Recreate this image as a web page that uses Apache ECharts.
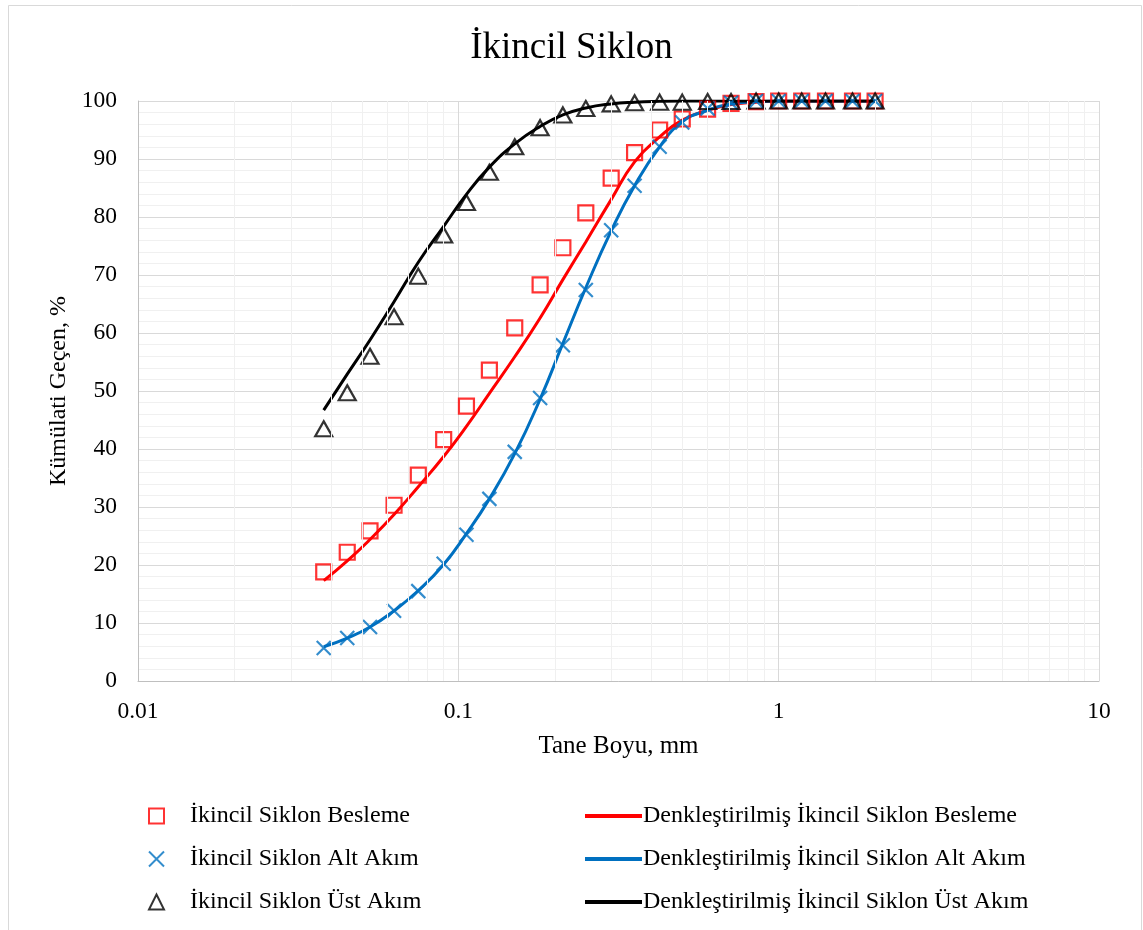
<!DOCTYPE html>
<html>
<head>
<meta charset="utf-8">
<script src="https://cdn.jsdelivr.net/npm/echarts@6/dist/echarts.min.js"></script>
<style>
  html, body { margin: 0; padding: 0; background: #fff; }
  #chart { width: 1143px; height: 930px; }
</style>
</head>
<body>
<div id="chart"></div>
<script>
// elek boyutlari, mm
const sizes = [0.038, 0.045, 0.053, 0.063, 0.075, 0.09, 0.106, 0.125, 0.15, 0.18, 0.212, 0.25,
  0.3, 0.355, 0.425, 0.5, 0.6, 0.71, 0.85, 1.0, 1.18, 1.4, 1.7, 2.0];

// olculen kumulatif gecen, %
const feed = [18.8, 22.2, 25.9, 30.3, 35.5, 41.6, 47.4, 53.6, 60.9, 68.3, 74.7, 80.7,
  86.7, 91.1, 95.0, 96.9, 98.6, 99.6, 99.9, 100, 100, 100, 100, 100];
const under = [5.7, 7.4, 9.3, 12.1, 15.5, 20.2, 25.2, 31.4, 39.5, 48.8, 57.9, 67.4,
  77.7, 85.4, 92.1, 96.3, 98.7, 99.7, 100, 100, 100, 100, 100, 100];
const over = [43.5, 49.7, 56.0, 62.8, 69.8, 76.9, 82.5, 87.7, 92.1, 95.4, 97.6, 98.7,
  99.5, 99.7, 99.8, 99.8, 99.9, 99.9, 100, 100, 100, 100, 100, 100];

// denklestirilmis egriler
const feedFit = [17.3, 20.7, 24.4, 28.7, 33.5, 38.7, 43.9, 49.6, 55.9, 62.6, 69.2, 75.7,
  83.0, 89.5, 93.8, 96.7, 98.4, 99.4, 99.8, 100, 100, 100, 100, 100];
const underFit = [5.9, 7.4, 9.3, 12.1, 15.6, 20.1, 25.4, 31.4, 39.2, 48.6, 58.2, 67.8,
  77.6, 85.4, 92.1, 96.4, 98.4, 99.5, 99.9, 100, 100, 100, 100, 100];
const overFit = [46.7, 52.9, 58.8, 65.4, 72.2, 78.4, 83.9, 88.6, 92.6, 95.6, 97.6, 98.8,
  99.5, 99.8, 99.95, 100, 100, 100, 100, 100, 100, 100, 100, 100];

const xTicks = [0.01, 0.1, 1, 10];
const xMinor = [0.02, 0.03, 0.04, 0.05, 0.06, 0.07, 0.08, 0.09,
  0.2, 0.3, 0.4, 0.5, 0.6, 0.7, 0.8, 0.9,
  2, 3, 4, 5, 6, 7, 8, 9];

const names = [
  'İkincil Siklon Besleme', 'İkincil Siklon Alt Akım', 'İkincil Siklon Üst Akım',
  'Denkleştirilmiş İkincil Siklon Besleme', 'Denkleştirilmiş İkincil Siklon Alt Akım',
  'Denkleştirilmiş İkincil Siklon Üst Akım'
];

const FONT = 'Liberation Serif';
const pairs = (ys) => sizes.map((x, i) => [x, ys[i]]);

const chart = echarts.init(document.getElementById('chart'));

const scatter = (name, ys, symbol, size, color) => ({
  name,
  type: 'scatter',
  data: pairs(ys),
  symbol,
  symbolSize: size,
  z: 4,
  itemStyle: { color: 'rgba(0,0,0,0)', borderColor: color, borderWidth: 2.2 },
});

const fit = (name, ys, color) => ({
  name,
  type: 'line',
  data: pairs(ys),
  smooth: 0.5,
  showSymbol: false,
  z: 3,
  lineStyle: { color, width: 3 },
  itemStyle: { color },
});

chart.setOption({
  animation: false,
  backgroundColor: '#fff',
  textStyle: { fontFamily: FONT, color: '#000' },
  title: {
    text: 'İkincil Siklon',
    left: 'center',
    top: 25,
    textStyle: { fontFamily: FONT, fontSize: 37, fontWeight: 'normal', color: '#000' },
  },
  graphic: [{
    type: 'rect',
    shape: { x: 8.5, y: 5.5, width: 1133, height: 940 },
    style: { fill: 'none', stroke: '#d9d9d9', lineWidth: 1 },
    silent: true,
  }],
  grid: { left: 138, right: 44, top: 101, bottom: 249 },
  xAxis: {
    type: 'log',
    logBase: 10,
    min: 0.01,
    max: 10,
    name: 'Tane Boyu, mm',
    nameLocation: 'middle',
    nameGap: 53,
    nameTextStyle: { fontFamily: FONT, fontSize: 25, color: '#000' },
    axisLine: { lineStyle: { color: '#bfbfbf', width: 1 } },
    axisTick: { show: false },
    axisLabel: {
      fontFamily: FONT, fontSize: 23.5, color: '#000', margin: 19,
      formatter: (v) => String(xTicks.find((t) => Math.abs(t - v) / t < 1e-6) ?? v),
    },
    splitLine: { show: true, lineStyle: { color: '#d9d9d9', width: 1 } },
  },
  yAxis: {
    type: 'value',
    min: 0,
    max: 100,
    interval: 10,
    name: 'Kümülati Geçen, %',
    nameLocation: 'middle',
    nameGap: 66,
    nameTextStyle: { fontFamily: FONT, fontSize: 24, color: '#000' },
    axisLine: { show: true, lineStyle: { color: '#bfbfbf', width: 1 } },
    axisTick: { show: false },
    axisLabel: { fontFamily: FONT, fontSize: 23.5, color: '#000', margin: 21 },
    splitLine: { lineStyle: { color: '#d9d9d9', width: 1 } },
    minorTick: { show: false, splitNumber: 5 },
    minorSplitLine: { show: true, lineStyle: { color: '#f0f0f0', width: 1 } },
  },
  legend: [{
    orient: 'vertical',
    left: 148,
    top: 804,
    padding: 0,
    itemWidth: 15,
    itemHeight: 15,
    itemGap: 19,
    data: names.slice(0, 3),
    textStyle: { fontFamily: FONT, fontSize: 24, color: '#000', padding: [0, 0, 0, 21] },
  }, {
    orient: 'vertical',
    left: 583,
    top: 804,
    padding: 0,
    itemWidth: 57,
    itemHeight: 16,
    itemGap: 19,
    data: names.slice(3),
    itemStyle: { color: 'rgba(0,0,0,0)', borderWidth: 0, opacity: 0 },
    lineStyle: { width: 4 },
    textStyle: { fontFamily: FONT, fontSize: 24, color: '#000', padding: [0, 0, 0, -4] },
  }],
  series: [
    {
      // ara izgara cizgileri (log eksende 2..9)
      type: 'line',
      data: [],
      z: 0,
      silent: true,
      markLine: {
        silent: true,
        symbol: 'none',
        label: { show: false },
        lineStyle: { color: '#f0f0f0', width: 1, type: 'solid' },
        data: xMinor.map((v) => ({ xAxis: v })),
      },
    },
    fit(names[3], feedFit, '#ff0000'),
    fit(names[4], underFit, '#0070c0'),
    fit(names[5], overFit, '#000000'),
    scatter(names[0], feed, 'rect', 15, '#ff0000'),
    scatter(names[1], under, 'path://M0,0L14,14M14,0L0,14', 14, '#0070c0'),
    scatter(names[2], over, 'triangle', [17, 15], '#000000'),
  ],
});
</script>
</body>
</html>
